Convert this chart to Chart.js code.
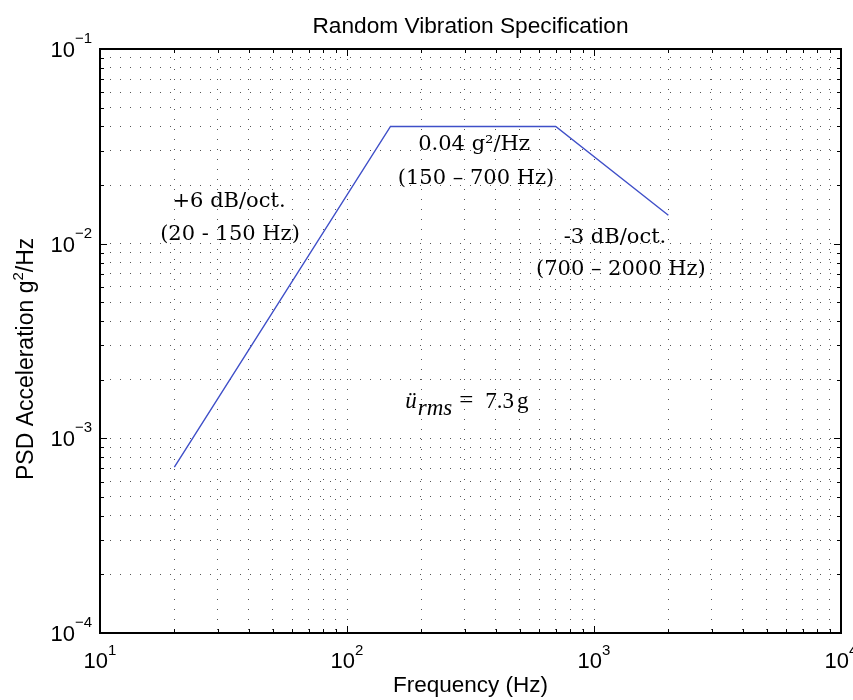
<!DOCTYPE html>
<html>
<head>
<meta charset="utf-8">
<script src="https://cdn.jsdelivr.net/npm/chart.js@4.4.0/dist/chart.umd.min.js"></script>
<style>
  html, body { margin: 0; padding: 0; background: #fff; }
</style>
</head>
<body>
<canvas id="chart" width="853" height="700"></canvas>
<script>
// breakpoints of the test spectrum
const freqHz = [20, 150, 700, 2000];
const psdG2Hz = [0.000711, 0.04, 0.04, 0.014];

// decades on each axis + the exponents printed on them
const xDecades = [10, 100, 1000, 10000];
const xExponents = ["1", "2", "3", "4"];
const yDecades = [0.0001, 0.001, 0.01, 0.1];
const yExponents = ["\u22124", "\u22123", "\u22122", "\u22121"];

// notes placed in data coordinates (Hz, g^2/Hz), centred on x
const noteText = ["+6 dB/oct.", "(20 - 150 Hz)", "0.04 g\u00b2/Hz", "(150 \u2013 700 Hz)", "-3 dB/oct.", "(700 \u2013 2000 Hz)"];
const noteFreq = [33.3, 33.6, 327, 333, 1216, 1285];
const notePsd = [0.0154, 0.01045, 0.0303, 0.0203, 0.0101, 0.0069];

// rms result, left edge at this point
const rmsFreq = 172;
const rmsPsd = 0.00143;
const rmsValue = "7.3";

const titleText = "Random Vibration Specification";
const xTitle = "Frequency (Hz)";
const yTitle = ["PSD Acceleration g", "2", "/Hz"];

// 1..9 in every decade, plus the last decade
function decadeTicks(decades) {
    const out = [];
    decades.forEach((d, i) => {
        if (i < decades.length - 1) {
            for (let k = 1; k < 10; k++) out.push(+(k * d).toPrecision(3));
        } else {
            out.push(d);
        }
    });
    return out;
}

const SANS = "'Liberation Sans', Arial, sans-serif";
const SERIF = "'DejaVu Serif', serif";
const TIMES = "'Liberation Serif', 'Times New Roman', serif";

// box, inner ticks, tick labels, titles and notes
const framePlugin = {
    id: "frame",
    afterDraw(chart) {
        const ctx = chart.ctx;
        const a = chart.chartArea;
        const xs = chart.scales.x;
        const ys = chart.scales.y;
        ctx.save();

        // inner tick marks on all four sides
        ctx.strokeStyle = "#000";
        ctx.lineWidth = 1;
        ctx.beginPath();
        xs.ticks.forEach(t => {
            const px = Math.round(xs.getPixelForValue(t.value)) + 0.5;
            const len = xDecades.includes(t.value) ? 7 : 4;
            ctx.moveTo(px, a.bottom); ctx.lineTo(px, a.bottom - len);
            ctx.moveTo(px, a.top); ctx.lineTo(px, a.top + len);
        });
        ys.ticks.forEach(t => {
            const py = Math.round(ys.getPixelForValue(t.value)) + 0.5;
            const len = yDecades.some(d => Math.abs(d - t.value) < d * 1e-6) ? 7 : 4;
            ctx.moveTo(a.left, py); ctx.lineTo(a.left + len, py);
            ctx.moveTo(a.right, py); ctx.lineTo(a.right - len, py);
        });
        ctx.stroke();

        // axes box
        ctx.lineWidth = 2;
        ctx.strokeRect(a.left, a.top, a.right - a.left, a.bottom - a.top);

        // tick labels 10^n
        ctx.fillStyle = "#000";
        ctx.textBaseline = "alphabetic";
        ctx.textAlign = "left";
        const baseFont = "22px " + SANS;
        const expFont = "15px " + SANS;
        xDecades.forEach((d, i) => {
            const px = xs.getPixelForValue(d);
            ctx.font = baseFont;
            const w10 = ctx.measureText("10").width;
            ctx.font = expFont;
            const we = ctx.measureText(xExponents[i]).width;
            const x0 = px - (w10 + we) / 2;
            ctx.font = baseFont;
            ctx.fillText("10", x0, a.bottom + 35);
            ctx.font = expFont;
            ctx.fillText(xExponents[i], x0 + w10, a.bottom + 22);
        });
        yDecades.forEach((d, i) => {
            const py = ys.getPixelForValue(d);
            ctx.font = expFont;
            const we = ctx.measureText(yExponents[i]).width;
            ctx.font = baseFont;
            const w10 = ctx.measureText("10").width;
            const x1 = a.left - 8;
            ctx.fillText("10", x1 - we - w10, py + 8);
            ctx.font = expFont;
            ctx.fillText(yExponents[i], x1 - we, py - 6);
        });

        // title and axis labels
        const cx = (a.left + a.right) / 2;
        ctx.textAlign = "center";
        ctx.font = "22.7px " + SANS;
        ctx.fillText(titleText, cx, 33);
        ctx.font = "22.5px " + SANS;
        ctx.fillText(xTitle, cx, 692);

        ctx.save();
        ctx.translate(33, 480);
        ctx.rotate(-Math.PI / 2);
        ctx.textAlign = "left";
        ctx.font = "23px " + SANS;
        ctx.fillText(yTitle[0], 0, 0);
        let off = ctx.measureText(yTitle[0]).width;
        ctx.font = "15px " + SANS;
        ctx.fillText(yTitle[1], off, -10);
        off += ctx.measureText(yTitle[1]).width;
        ctx.font = "23px " + SANS;
        ctx.fillText(yTitle[2], off, 0);
        ctx.restore();

        // notes
        ctx.textAlign = "center";
        ctx.font = "21px " + SERIF;
        noteText.forEach((txt, i) => {
            ctx.fillText(txt, xs.getPixelForValue(noteFreq[i]), ys.getPixelForValue(notePsd[i]));
        });

        // ü_rms = 7.3 g
        ctx.textAlign = "left";
        let x = xs.getPixelForValue(rmsFreq);
        const y = ys.getPixelForValue(rmsPsd);
        ctx.font = "italic 23px " + TIMES;
        ctx.fillText("\u00fc", x, y);
        x += ctx.measureText("\u00fc").width + 1;
        ctx.fillText("rms", x, y + 7);
        x += ctx.measureText("rms").width + 7;
        ctx.font = "25px " + TIMES;
        ctx.fillText("=", x, y);
        x += ctx.measureText("=").width + 12;
        ctx.font = "23px " + TIMES;
        ctx.fillText(rmsValue, x, y);
        x += ctx.measureText(rmsValue).width + 3;
        ctx.fillText("g", x, y);

        ctx.restore();
    }
};

function logAxis(min, max, decades, fitSide) {
    return {
        type: "logarithmic",
        min: min,
        max: max,
        afterBuildTicks: s => { s.ticks = decadeTicks(decades).map(v => ({ value: v })); },
        afterFit: fitSide,
        ticks: { display: false, autoSkip: false },
        grid: { color: "#555555", lineWidth: 1, drawTicks: false },
        border: { display: false, dash: [1, 9] }
    };
}

new Chart(document.getElementById("chart"), {
    type: "line",
    data: {
        datasets: [{
            data: freqHz.map((f, i) => ({ x: f, y: psdG2Hz[i] })),
            borderColor: "#3f4fc8",
            borderWidth: 1.4,
            pointRadius: 0,
            fill: false,
            tension: 0
        }]
    },
    options: {
        responsive: false,
        animation: false,
        layout: { padding: { top: 49, right: 12, left: 0, bottom: 0 } },
        plugins: {
            legend: { display: false },
            tooltip: { enabled: false },
            title: { display: false }
        },
        scales: {
            x: logAxis(10, 10000, xDecades, s => { s.height = 67; }),
            y: logAxis(0.0001, 0.1, yDecades, s => { s.width = 100; })
        }
    },
    plugins: [framePlugin]
});
</script>
</body>
</html>
